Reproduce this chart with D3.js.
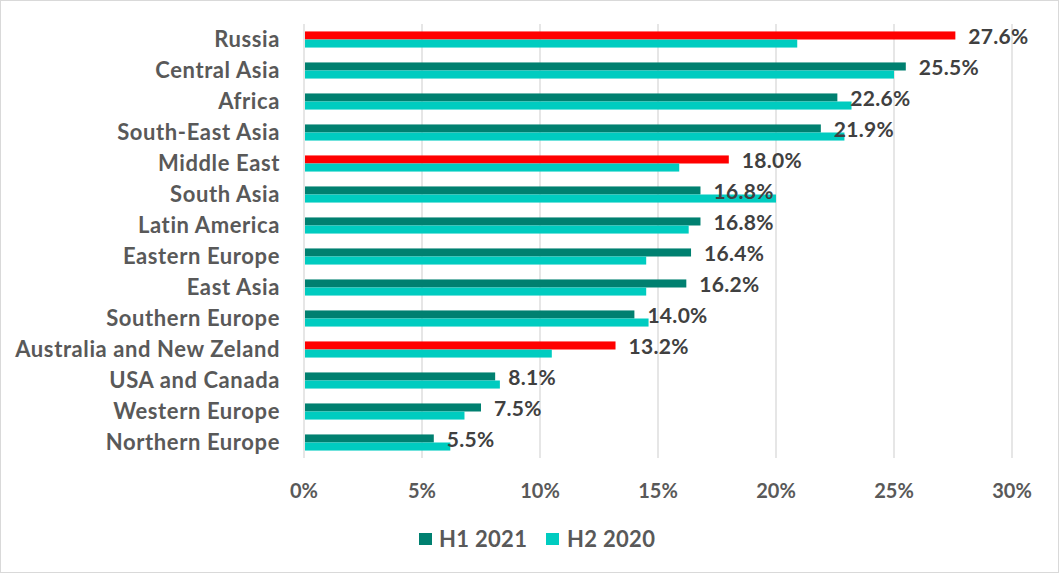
<!DOCTYPE html>
<html><head><meta charset="utf-8">
<script src="https://cdn.jsdelivr.net/npm/d3@7"></script>
<style>body{margin:0;background:#fff;}svg{display:block;font-family:Lato,"Open Sans",sans-serif;}</style>
</head><body>
<svg id="c" width="1059" height="573"></svg>
<script>
const categories = ["Russia","Central Asia","Africa","South-East Asia","Middle East","South Asia","Latin America","Eastern Europe","East Asia","Southern Europe","Australia and New Zeland","USA and Canada","Western Europe","Northern Europe"];
const h1_2021 = [27.6,25.5,22.6,21.9,18.0,16.8,16.8,16.4,16.2,14.0,13.2,8.1,7.5,5.5];
const h2_2020 = [20.9,25.0,23.2,22.9,15.9,20.0,16.3,14.5,14.5,14.6,10.5,8.3,6.8,6.2];
const highlighted = ["Russia","Middle East","Australia and New Zeland"];
const xTicks = [0,5,10,15,20,25,30];
const seriesNames = ["H1 2021","H2 2020"];

const C_DARK="#008070", C_LIGHT="#00CCC0", C_RED="#FF0000";
const svg=d3.select("#c");
svg.append("rect").attr("x",0.5).attr("y",0.5).attr("width",1058).attr("height",572).attr("fill","#fff").attr("stroke","#D9D9D9");

const L=304,R=1012,T=24,B=458;
const x=d3.scaleLinear().domain([0,30]).range([L,R]);
const y=d3.scaleBand().domain(categories).range([T,B]).paddingInner(0.48).paddingOuter(0.24);
const sub=d3.scaleBand().domain(seriesNames).range([0,y.bandwidth()]);

// gridlines
svg.append("g").selectAll("line").data(xTicks).join("line")
  .attr("x1",d=>x(d)).attr("x2",d=>x(d)).attr("y1",T).attr("y2",B)
  .attr("stroke","#D9D9D9").attr("stroke-width",1.3);

// axis tick labels
svg.append("g").selectAll("text").data(xTicks).join("text")
  .attr("x",d=>x(d)).attr("y",490).attr("text-anchor","middle").attr("dominant-baseline","central")
  .attr("fill","#595959").attr("font-size",20).attr("font-weight","bold").text(d=>d+"%");

const rows=categories.map((c,i)=>({c,a:h1_2021[i],b:h2_2020[i]}));
const g=svg.append("g");
g.selectAll("rect.a").data(rows).join("rect").attr("class","a")
  .attr("x",x(0)+1).attr("y",d=>y(d.c)+sub("H1 2021")).attr("height",sub.bandwidth())
  .attr("width",d=>x(d.a)-x(0)-1).attr("fill",d=>highlighted.includes(d.c)?C_RED:C_DARK);
g.selectAll("rect.b").data(rows).join("rect").attr("class","b")
  .attr("x",x(0)+1).attr("y",d=>y(d.c)+sub("H2 2020")).attr("height",sub.bandwidth())
  .attr("width",d=>x(d.b)-x(0)-1).attr("fill",C_LIGHT);

// value labels
g.selectAll("text.v").data(rows).join("text").attr("class","v")
  .attr("x",d=>x(d.a)+13).attr("y",d=>y(d.c)+sub("H1 2021")+sub.bandwidth()/2)
  .attr("dominant-baseline","central").attr("font-size",21).attr("font-weight","bold")
  .attr("letter-spacing",0.3).attr("fill","#404040").text(d=>d.a.toFixed(1)+"%");

// category labels
svg.append("g").selectAll("text").data(categories).join("text")
  .attr("x",280).attr("y",d=>y(d)+y.bandwidth()/2-1).attr("text-anchor","end")
  .attr("dominant-baseline","central").attr("font-size",22).attr("font-weight","bold")
  .attr("letter-spacing",0.6).attr("fill","#595959").text(d=>d);

// legend
const leg=svg.append("g");
const legItems=[{n:"H1 2021",c:C_DARK,sx:419,tx:439},{n:"H2 2020",c:C_LIGHT,sx:546,tx:567}];
legItems.forEach(it=>{
  leg.append("rect").attr("x",it.sx).attr("y",533).attr("width",13).attr("height",12).attr("fill",it.c);
  leg.append("text").attr("x",it.tx).attr("y",538).attr("dominant-baseline","central")
    .attr("font-size",22).attr("font-weight","bold").attr("letter-spacing",0.3)
    .attr("fill","#595959").text(it.n);
});
</script>
</body></html>
